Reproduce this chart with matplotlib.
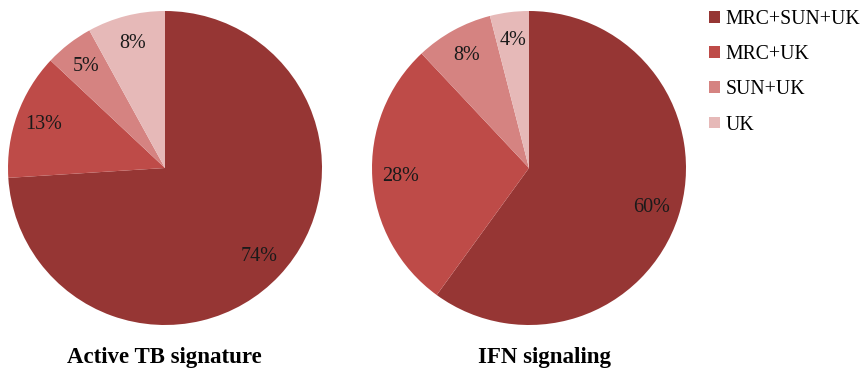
import matplotlib.pyplot as plt
from matplotlib.patches import Patch

# Share of genes by dataset overlap
groups = ["MRC+SUN+UK", "MRC+UK", "SUN+UK", "UK"]
active_tb = [74, 13, 5, 8]
ifn = [60, 28, 8, 4]
titles = ["Active TB signature", "IFN signaling"]
colors = ["#963634", "#BE4B48", "#D58381", "#E6B9B8"]

plt.rcParams["font.family"] = ["Liberation Serif", "DejaVu Serif"]

W, H = 861, 374
fig = plt.figure(figsize=(W / 100, H / 100), dpi=100)

# pixel boxes (left, top, size, title centre) for each pie
boxes = [(8, 11, 314, 164), (372, 11, 314, 545)]

for (left, top, size, tx), vals, title in zip(boxes, [active_tb, ifn], titles):
    ax = fig.add_axes([left / W, (H - top - size) / H, size / W, size / H])
    ax.pie(vals, colors=colors, startangle=90, counterclock=False,
           autopct=lambda p: f"{p:.0f}%", pctdistance=0.82,
           textprops={"fontsize": 14.5, "color": "#1a1a1a"},
           wedgeprops={"linewidth": 0})
    ax.set_xlim(-1, 1)
    ax.set_ylim(-1, 1)
    ax.set_aspect("equal")
    fig.text(tx / W, 1 - 357 / H, title, ha="center", va="center",
             fontsize=16.5, fontweight="bold")

handles = [Patch(facecolor=c, edgecolor="none") for c in colors]
fig.legend(handles, groups, loc="upper left", bbox_to_anchor=(709 / W, 1 - 10 / H),
           frameon=False, fontsize=14.2, handlelength=0.55, handleheight=0.55,
           handletextpad=0.3, labelspacing=0.82, borderpad=0, borderaxespad=0)

fig.savefig("out.png", dpi=100)
